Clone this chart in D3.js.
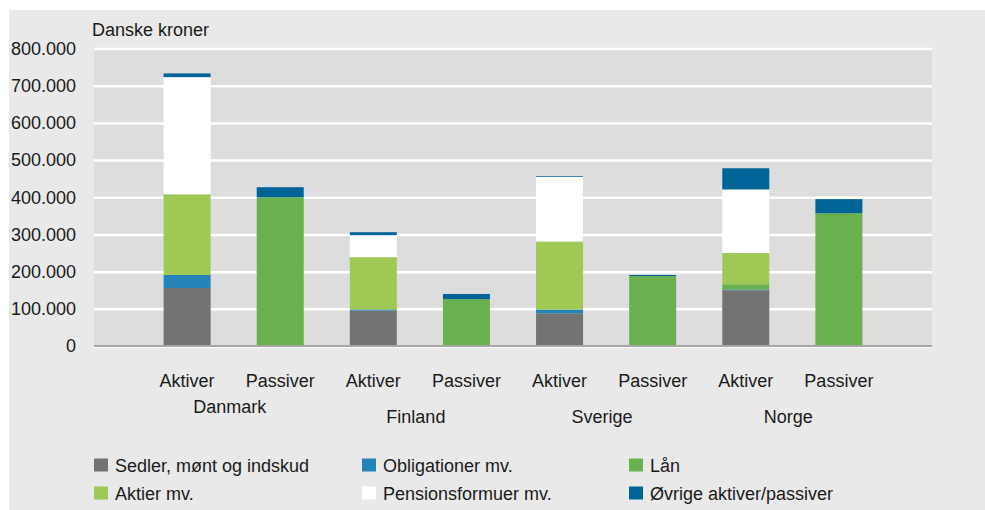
<!DOCTYPE html>
<html>
<head>
<meta charset="utf-8">
<script src="https://cdn.jsdelivr.net/npm/d3@7"></script>
<style>
  body { margin: 0; background: #fff; }
  text { font-family: "Liberation Sans", Arial, sans-serif; fill: #1a1a1a; }
</style>
</head>
<body>
<svg id="chart" width="985" height="510"></svg>
<script>
// data (kroner)
var countries = ["Danmark", "Finland", "Sverige", "Norge"];
var sides = ["Aktiver", "Passiver"];
var seriesNames = ["Sedler, mønt og indskud", "Obligationer mv.", "Lån",
                   "Aktier mv.", "Pensionsformuer mv.", "Øvrige aktiver/passiver"];
// order: DK akt, DK pas, FI akt, FI pas, SE akt, SE pas, NO akt, NO pas
var sedler       = [156000, 1000,  95000,      0,  88000,      0, 150000,      0];
var obligationer = [ 35000,    0,   3000,      0,  10000,      0,   2000,      0];
var laan         = [     0, 399000,  1000, 126000,      0, 188000,  14000, 357000];
var aktier       = [217000,    0, 140000,      0, 183000,      0,  84000,      0];
var pension      = [315000,    0,  59000,      0, 174000,      0, 171000,      0];
var oevrige      = [ 10000, 27000,   8000,  14000,   2000,   3000,  57000,  38000];
var yTicks = [0, 100000, 200000, 300000, 400000, 500000, 600000, 700000, 800000];

var colors = ["#737373", "#2484b8", "#69b04f", "#a0c855", "#ffffff", "#006496"];

var svg = d3.select("#chart");

// background
svg.append("rect").attr("x", 9).attr("y", 10).attr("width", 976).attr("height", 500)
    .attr("fill", "#e9e9e9");

var pL = 94, pR = 932, pT = 48.5, pB = 346;

var keys = [];
countries.forEach(function(c) { sides.forEach(function(s) { keys.push(c + "|" + s); }); });

var rows = keys.map(function(k, i) {
    return {key: k, s0: sedler[i], s1: obligationer[i], s2: laan[i],
            s3: aktier[i], s4: pension[i], s5: oevrige[i]};
});

var x = d3.scalePoint().domain(keys).range([pL, pR]).padding(1);
var barW = 47;
var y = d3.scaleLinear().domain([0, 800000]).range([pB, pT]);

var loc = d3.formatLocale({decimal: ",", thousands: ".", grouping: [3], currency: ["", ""]});
var fmt = loc.format(",");

// plot area
svg.append("rect").attr("x", pL).attr("y", pT).attr("width", pR - pL)
    .attr("height", pB - pT).attr("fill", "#dddddd");

// grid + labels
var yAxis = d3.axisLeft(y).tickValues(yTicks).tickFormat(fmt)
    .tickSize(-(pR - pL)).tickPadding(18);
var gy = svg.append("g").attr("transform", "translate(" + pL + ",0)").call(yAxis);
gy.select(".domain").remove();
gy.selectAll(".tick line").attr("stroke", "#ffffff").attr("stroke-width", 2.5);
gy.selectAll(".tick text").style("font-size", "18px").attr("fill", "#1a1a1a")
    .style("font-family", "Liberation Sans, Arial, sans-serif");

// stacks
var stack = d3.stack().keys(["s0", "s1", "s2", "s3", "s4", "s5"]);
var layers = stack(rows);

svg.append("g").selectAll("g").data(layers).join("g")
    .attr("fill", function(d, i) { return colors[i]; })
    .selectAll("rect").data(function(d) { return d; }).join("rect")
    .attr("x", function(d) { return x(d.data.key) - barW / 2; })
    .attr("width", barW)
    .attr("y", function(d) { return y(d[1]); })
    .attr("height", function(d) { return y(d[0]) - y(d[1]); });

// zero line
svg.append("line").attr("x1", pL).attr("x2", pR).attr("y1", y(0)).attr("y2", y(0))
    .attr("stroke", "#a6a6a6").attr("stroke-width", 2);

// category labels
svg.append("g").selectAll("text").data(keys).join("text")
    .attr("x", function(d) { return x(d); })
    .attr("y", 387)
    .attr("text-anchor", "middle")
    .style("font-size", "18px")
    .text(function(d) { return d.split("|")[1]; });

svg.append("g").selectAll("text").data(countries).join("text")
    .attr("x", function(c) { return (x(c + "|Aktiver") + x(c + "|Passiver")) / 2 - 4; })
    .attr("y", function(c, i) { return i === 0 ? 413 : 423; })
    .attr("text-anchor", "middle")
    .style("font-size", "18px")
    .text(function(d) { return d; });

// y title
svg.append("text").attr("x", 92).attr("y", 36).style("font-size", "18px").text("Danske kroner");

// legend
var legX = [94, 362, 629], legY = [465, 493];
var leg = svg.append("g").selectAll("g").data(seriesNames).join("g")
    .attr("transform", function(d, i) {
        return "translate(" + legX[i % 3] + "," + legY[Math.floor(i / 3)] + ")";
    });
leg.append("rect").attr("x", 0).attr("y", -6.5).attr("width", 14).attr("height", 13)
    .attr("fill", function(d, i) { return colors[i]; });
leg.append("text").attr("x", 21).attr("y", 6.5).style("font-size", "18px")
    .text(function(d) { return d; });
</script>
</body>
</html>
